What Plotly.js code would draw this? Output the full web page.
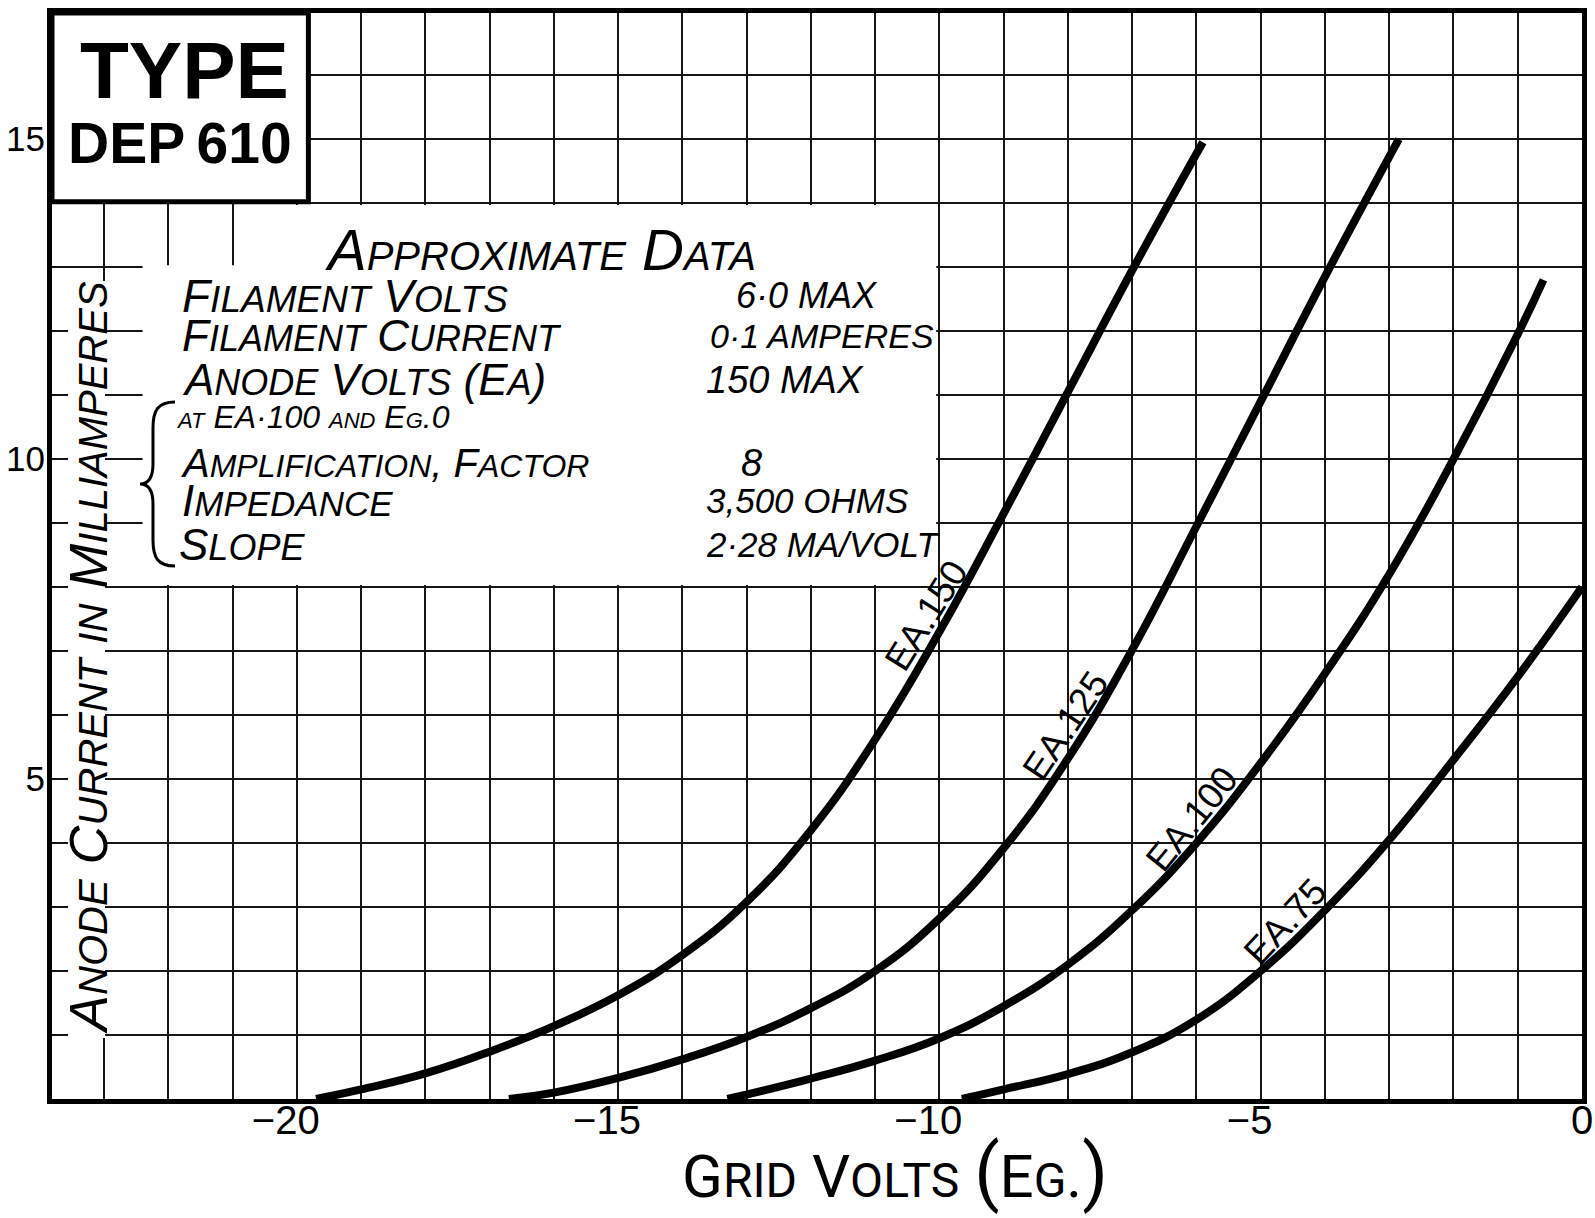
<!DOCTYPE html>
<html>
<head>
<meta charset="utf-8">
<script src="https://cdn.plot.ly/plotly-3.0.1.min.js"></script>
<style>
html,body{margin:0;padding:0;background:#fff;}
#chart{width:1595px;height:1218px;}
</style>
</head>
<body>
<div id="chart"></div>
<script>
// ---------------- data ----------------
const curveNames = ["EA.150", "EA.125", "EA.100", "EA.75"];

const ea150_x = [-19.7, -19, -18, -17, -16, -15, -14, -13, -12, -11, -10, -9, -8, -7, -5.9];
const ea150_y = [0, 0.15, 0.40, 0.74, 1.14, 1.62, 2.25, 3.08, 4.2, 5.62, 7.3, 9.15, 11.05, 12.95, 14.95];

const ea125_x = [-16.7, -16, -15, -14, -13, -12, -11, -10, -9, -8, -7, -6, -5, -4, -2.85];
const ea125_y = [0, 0.1, 0.33, 0.62, 0.97, 1.42, 2.0, 2.82, 3.92, 5.32, 7.02, 8.95, 10.9, 12.85, 15.0];

const ea100_x = [-13.3, -12, -11, -10, -9, -8, -7, -6, -5, -4, -3, -2, -1, -0.6];
const ea100_y = [0, 0.32, 0.6, 0.95, 1.45, 2.1, 2.95, 4.0, 5.25, 6.65, 8.2, 10.0, 11.95, 12.8];

const ea75_x = [-9.65, -9, -8, -7, -6, -5, -4, -3, -2, -1, 0];
const ea75_y = [0, 0.15, 0.39, 0.73, 1.24, 2.0, 2.95, 4.05, 5.3, 6.6, 8.0];

const xTickVals = [-20, -15, -10, -5, 0];
const xTickText = ["\u221220", "\u221215", "\u221210", "\u22125", "0"];
const yTickVals = [5, 10, 15];
const yTickText = ["5", "10", "15"];

const boxTitle = ["TYPE", "DEP\u2009610"];
const infoHeading = "Approximate Data";
const infoLabels = ["Filament Volts", "Filament Current", "Anode Volts (Ea)", "at EA\u00b7100 and Eg.0",
                    "Amplification, Factor", "Impedance", "Slope"];
const infoValues = ["6\u00b70 MAX", "0\u00b71 AMPERES", "150 MAX", "", "8", "3,500 OHMS", "2\u00b728 MA/VOLT"];
const xTitle = "Grid Volts (Eg.)";
const yTitle = "Anode Current in Milliamperes";

// ---------------- geometry / styles ----------------
const L = 52, R = 1582, T = 13, B = 1099;
const XMIN = -23.81, XMAX = 0, YMIN = 0, YMAX = 16.97;
const PX = x => (x - L) / (R - L);
const PY = y => (B - y) / (B - T);
const DX = x => XMIN + (x - L) / (R - L) * (XMAX - XMIN);
const DY = y => YMIN + (B - y) / (B - T) * (YMAX - YMIN);

const FONT = "Liberation Sans, Arial, sans-serif";
const TITLEFONT = "Roboto, Liberation Sans, sans-serif";
const INK = "#000";

// lowercase letters in the source strings are drawn as smaller capitals
function sc(s, small) {
  return s.replace(/[a-z]+/g, m => '<span style="font-size:' + small + 'px">' + m.toUpperCase() + '</span>');
}
function parens(s, size) {
  return s.replace(/[()]/g, m => '<span style="font-size:' + size + 'px">' + m + '</span>');
}

const curves = [
  {name: curveNames[0], x: ea150_x, y: ea150_y},
  {name: curveNames[1], x: ea125_x, y: ea125_y},
  {name: curveNames[2], x: ea100_x, y: ea100_y},
  {name: curveNames[3], x: ea75_x, y: ea75_y}
];

const traces = curves.map(c => ({
  type: "scatter", mode: "lines", name: c.name, x: c.x, y: c.y,
  line: {color: INK, width: 8, shape: "spline", smoothing: 1.3},
  hoverinfo: "skip", showlegend: false
}));

const annotations = [];
function addPaper(xp, yp, text, font, extra) {
  annotations.push(Object.assign({
    xref: "paper", yref: "paper", x: PX(xp), y: PY(yp), text: text,
    showarrow: false, font: Object.assign({family: FONT, color: INK}, font),
    xanchor: "center", yanchor: "middle", borderpad: 0
  }, extra || {}));
}

// TYPE box text
addPaper(184, 70, boxTitle[0], {size: 80, weight: "bold"});
addPaper(180, 143, boxTitle[1], {size: 57, weight: "bold"});

// information block
addPaper(540, 249, sc(infoHeading, 40), {size: 58, style: "italic"});
const rowY = [296, 336, 380, 417, 463, 501, 544];
const rowX = [181, 181, 181, 175, 180, 181, 178];
const rowBig = [46, 44, 44, 32, 40, 44, 44];
const rowSmall = [37, 36, 36, 22, 32, 35, 36];
const valX = [735, 709, 705, 0, 740, 705, 705];
const valSize = [36, 34, 38, 0, 38, 35, 35];
infoLabels.forEach((lab, i) => {
  addPaper(rowX[i], rowY[i], sc(lab, rowSmall[i]), {size: rowBig[i], style: "italic"}, {xanchor: "left"});
  if (infoValues[i]) {
    addPaper(valX[i], rowY[i], infoValues[i], {size: valSize[i], style: "italic"}, {xanchor: "left"});
  }
});

// axis titles
addPaper(88, 658, sc(yTitle, 40), {size: 54, style: "italic"}, {textangle: -90});
addPaper(895, 1172, parens(sc(xTitle, 48), 74), {family: TITLEFONT, size: 60});

// curve labels: anchored on the curve, pushed off it at right angles
const labelAt = [-9.95, -7.8, -5.85, -4.4];
const labelAngle = [-58, -56, -51, -47];
const labelGap = 19;
function interp(xs, ys, x) {
  for (let k = 1; k < xs.length; k++) {
    if (x <= xs[k]) { const t = (x - xs[k - 1]) / (xs[k] - xs[k - 1]); return ys[k - 1] + t * (ys[k] - ys[k - 1]); }
  }
  return ys[ys.length - 1];
}
curves.forEach((c, i) => {
  const a = -labelAngle[i] * Math.PI / 180;
  annotations.push({
    xref: "x", yref: "y", x: labelAt[i], y: interp(c.x, c.y, labelAt[i]), text: c.name,
    showarrow: false, textangle: labelAngle[i],
    xshift: -labelGap * Math.sin(a), yshift: labelGap * Math.cos(a),
    font: {family: FONT, size: 37, color: INK}, xanchor: "center", yanchor: "middle"
  });
});

// brace path in pixel terms -> paper
function pathPx(cmds) {
  return cmds.map(c => c[0] + c.slice(1).map((v, k) => (k % 2 === 0 ? PX(v) : PY(v)).toFixed(5)).join(",")).join(" ");
}
const bracePath = pathPx([
  ["M", 175, 402],
  ["C", 158, 402, 153, 410, 153, 428],
  ["L", 153, 464],
  ["C", 153, 478, 148, 484, 140, 484],
  ["C", 148, 484, 153, 490, 153, 504],
  ["L", 153, 540],
  ["C", 153, 558, 158, 566, 175, 566]
]);

const shapes = [
  // white strip under the y title
  {type: "rect", xref: "x", yref: "y", x0: DX(68), x1: DX(105), y0: DY(1038), y1: DY(281),
   fillcolor: "#fff", line: {width: 0}, layer: "between"},
  // white area under the information block
  {type: "rect", xref: "x", yref: "y", x0: -22.4, x1: -10.05, y0: 8.03, y1: 13.03,
   fillcolor: "#fff", line: {width: 0}, layer: "between"},
  {type: "rect", xref: "x", yref: "y", x0: -20.9, x1: -10.05, y0: 12.9, y1: 13.97,
   fillcolor: "#fff", line: {width: 0}, layer: "between"},
  // TYPE box
  {type: "rect", xref: "x", yref: "y", x0: XMIN, x1: -19.82, y0: 14.02, y1: YMAX,
   fillcolor: "#fff", line: {color: INK, width: 5}, layer: "above"},
  // brace
  {type: "path", xref: "paper", yref: "paper", path: bracePath, line: {color: INK, width: 3}, layer: "above"}
];

const gridStyle = {showgrid: true, gridcolor: "#161616", gridwidth: 2};

const layout = {
  width: 1595, height: 1218,
  margin: {l: L, r: 1595 - R, t: T, b: 1218 - B, pad: 0},
  paper_bgcolor: "#fff", plot_bgcolor: "#fff",
  showlegend: false,
  xaxis: Object.assign({
    range: [XMIN, XMAX], tickmode: "array", tickvals: xTickVals,
    ticktext: xTickText.map(t => t.charAt(0) === "\u2212" ? t + "\u2007" : t),
    minor: Object.assign({tickmode: "linear", tick0: 0, dtick: 1, ticks: ""}, gridStyle),
    showline: true, linecolor: INK, linewidth: 5, mirror: true, ticks: "", ticklen: 0,
    ticklabelstandoff: -18,
    zeroline: false, fixedrange: true,
    tickfont: {family: FONT, size: 40, color: INK}
  }, gridStyle),
  yaxis: Object.assign({
    range: [YMIN, YMAX], tickmode: "array", tickvals: yTickVals, ticktext: yTickText,
    minor: Object.assign({tickmode: "linear", tick0: 0, dtick: 1, ticks: ""}, gridStyle),
    showline: true, linecolor: INK, linewidth: 5, mirror: true, ticks: "", ticklen: 0,
    ticklabelstandoff: -5,
    zeroline: false, fixedrange: true,
    tickfont: {family: FONT, size: 35, color: INK}
  }, gridStyle),
  annotations: annotations,
  shapes: shapes
};

Plotly.newPlot("chart", traces, layout, {displayModeBar: false, staticPlot: true});
</script>
</body>
</html>
